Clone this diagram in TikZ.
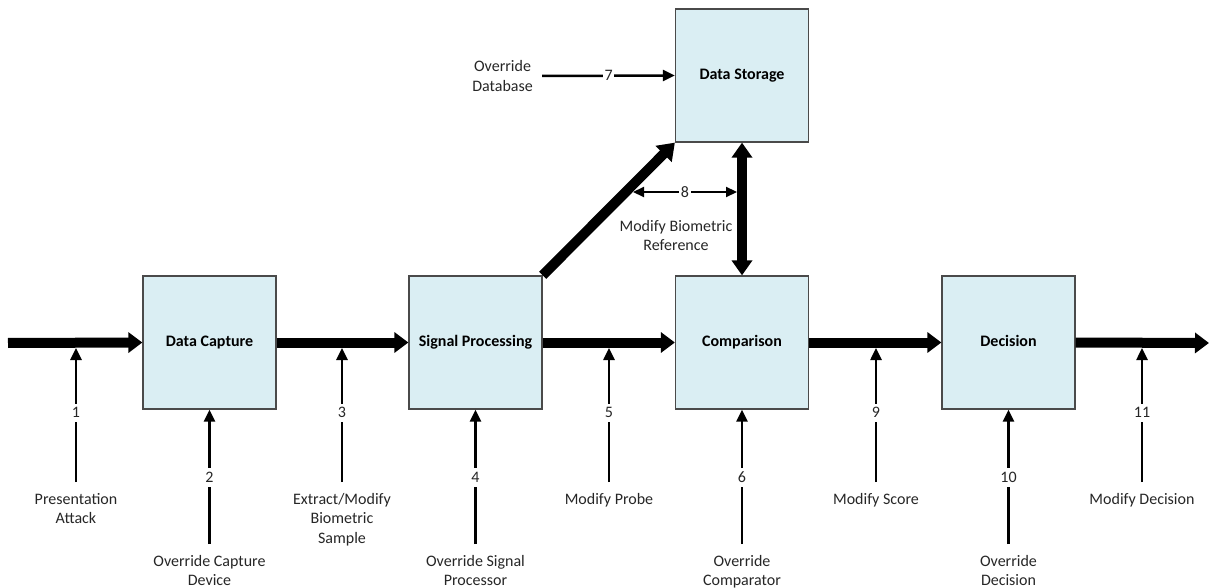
\documentclass[tikz,border=0pt]{standalone}
\usepackage{fontspec}
\setmainfont{Carlito}
\usetikzlibrary{arrows.meta}
\definecolor{boxfill}{HTML}{DAEEF3}
\definecolor{boxline}{HTML}{4A4A4A}
\definecolor{txt}{HTML}{262626}
\begin{document}
\begin{tikzpicture}[x=1pt,y=-1pt,
  box/.style={draw=boxline, fill=boxfill, line width=1.3pt, minimum width=133pt, minimum height=133pt, inner sep=0pt, text height=11.5pt, text depth=3.5pt, font=\fontsize{16}{19.5}\selectfont\bfseries},
  flow/.style={line width=10pt, -{Triangle[length=14pt,width=20pt]}},
  bigflow/.style={line width=10pt, -{Triangle[length=16pt,width=22pt]}},
  dblflow/.style={line width=10pt, {Triangle[length=15pt,width=20pt]}-{Triangle[length=15pt,width=20pt]}},
  atk/.style={line width=2.5pt, -{Triangle[length=12pt,width=11pt]}, shorten <=10pt},
  lbl/.style={font=\fontsize{16}{19.5}\selectfont, text=txt, align=center, inner sep=1pt},
  num/.style={font=\fontsize{16}{19.5}\selectfont, text=txt, fill=white, inner xsep=1.5pt, inner ysep=4pt}
]
\useasboundingbox (0,0) rectangle (1211,588);

% boxes
\node[box] (dc)  at (209.5,342.5) {Data Capture};
\node[box] (sp)  at (475.5,342.5) {Signal Processing};
\node[box] (cmp) at (742,342.5) {Comparison};
\node[box] (dec) at (1008.5,342.5) {Decision};
\node[box] (ds)  at (742,75.5) {Data Storage};

% main flow
\coordinate (in) at (8,343);
\coordinate (out) at (1209,343);
\draw[flow] (in) -- (dc.west);
\draw[flow] (dc.east) -- (sp.west);
\draw[flow] (sp.east) -- (cmp.west);
\draw[flow] (cmp.east) -- (dec.west);
\draw[flow] (dec.east) -- (out);

% storage links
\draw[bigflow] (sp.north east) -- (ds.south west);
\draw[dblflow] (ds.south) -- (cmp.north);

% attack points on the flow
\coordinate (e1) at (76,348);
\coordinate (e3) at (342,348);
\coordinate (e5) at (609,348);
\coordinate (e9) at (876,348);
\coordinate (e11) at (1142,348);

\node[lbl, anchor=north] (t1) at (76,492) {Presentation\\Attack};
\node[lbl, anchor=north] (t3) at (342,492) {Extract/Modify\\Biometric\\Sample};
\node[lbl, anchor=north] (t5) at (609,492) {Modify Probe};
\node[lbl, anchor=north] (t9) at (876,492) {Modify Score};
\node[lbl, anchor=north] (t11) at (1142,492) {Modify Decision};

\node[lbl, anchor=north] (t2) at (209.5,554) {Override Capture\\Device};
\node[lbl, anchor=north] (t4) at (475.5,554) {Override Signal\\Processor};
\node[lbl, anchor=north] (t6) at (742,554) {Override\\Comparator};
\node[lbl, anchor=north] (t10) at (1008.5,554) {Override\\Decision};

\draw[atk] (t1.north) -- node[num, pos=0.55] {1} (e1);
\draw[atk] (t3.north) -- node[num, pos=0.55] {3} (e3);
\draw[atk] (t5.north) -- node[num, pos=0.55] {5} (e5);
\draw[atk] (t9.north) -- node[num, pos=0.55] {9} (e9);
\draw[atk] (t11.north) -- node[num, pos=0.55] {11} (e11);

\draw[atk] (t2.north) -- node[num, pos=0.53] {2} (dc.south);
\draw[atk] (t4.north) -- node[num, pos=0.53] {4} (sp.south);
\draw[atk] (t6.north) -- node[num, pos=0.53] {6} (cmp.south);
\draw[atk] (t10.north) -- node[num, pos=0.53] {10} (dec.south);

% database override
\node[lbl, anchor=east] (t7) at (534,76) {Override\\Database};
\draw[atk, shorten <=8pt] (t7.east) -- node[num, pos=0.53] {7} (ds.west);

% biometric reference
\coordinate (r1) at (633,192);
\coordinate (r2) at (737,192);
\draw[line width=2.2pt, {Triangle[length=11pt,width=10pt]}-{Triangle[length=11pt,width=10pt]}] (r1) -- node[num] {8} (r2);
\node[lbl, anchor=north] (t8) at (676,219) {Modify Biometric\\Reference};
\end{tikzpicture}
\end{document}
